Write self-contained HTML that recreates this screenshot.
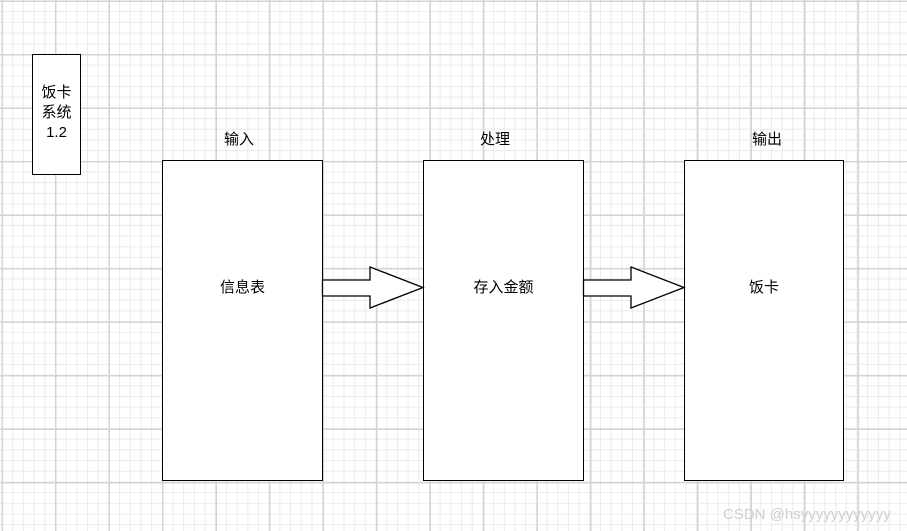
<!DOCTYPE html>
<html><head><meta charset="utf-8"><style>
html,body{margin:0;padding:0}
body{width:907px;height:531px;position:relative;overflow:hidden;background:#fff;
font-family:"Liberation Sans","Noto Sans CJK SC",sans-serif;font-size:15px;color:#000;
background-image:
linear-gradient(to right,#d4d4d4 1.5px,transparent 1.5px),
linear-gradient(to bottom,#d4d4d4 1.5px,transparent 1.5px),
linear-gradient(to right,#ebebeb 1px,transparent 1px),
linear-gradient(to bottom,#ebebeb 1px,transparent 1px);
background-size:53.5px 53.5px,53.5px 53.5px,10.7px 10.7px,10.7px 10.7px;
background-position:1.5px 0,0 0.5px,1.5px 0,0 0.5px;}
.b{position:absolute;border:1px solid #000;background:#fff;box-sizing:border-box;text-align:center}
.t{position:absolute;left:0;right:0;top:117px;line-height:20px}
.l{position:absolute;width:80px;text-align:center;line-height:20px}
</style></head><body>
<div class="b" style="left:32px;top:54px;width:49px;height:121px;padding-top:28px;line-height:20px">饭卡<br>系统<br>1.2</div>
<div class="b" style="left:162px;top:160px;width:161px;height:321px"><div class="t">信息表</div></div>
<div class="b" style="left:423px;top:160px;width:161px;height:321px"><div class="t">存入金额</div></div>
<div class="b" style="left:684px;top:160px;width:160px;height:321px"><div class="t">饭卡</div></div>
<div class="l" style="left:199px;top:130px">输入</div>
<div class="l" style="left:455px;top:130px">处理</div>
<div class="l" style="left:727px;top:130px">输出</div>
<svg width="907" height="531" style="position:absolute;left:0;top:0">
<polygon points="322.5,280 370,280 370,267 423,287.5 370,308 370,296 322.5,296" fill="#fff" stroke="#000" stroke-width="1.3"/>
<polygon points="583.5,280 631,280 631,267 684,287.5 631,308 631,296 583.5,296" fill="#fff" stroke="#000" stroke-width="1.3"/>
</svg>
<div style="position:absolute;left:723px;top:506px;font-size:15px;color:#cfcfcf">CSDN @hsyyyyyyyyyyyy</div>
</body></html>
